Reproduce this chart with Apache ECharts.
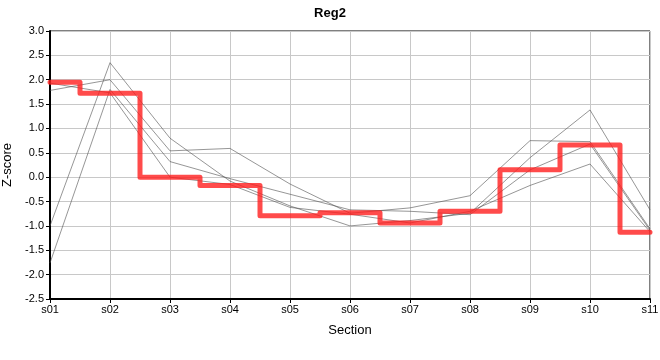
<!DOCTYPE html>
<html><head><meta charset="utf-8">
<script src="https://cdn.jsdelivr.net/npm/echarts@6/dist/echarts.min.js"></script>
<style>html,body{margin:0;padding:0;background:#fff}#c{width:660px;height:360px}</style>
</head><body><div id="c"></div>
<script>
const categories = ['s01','s02','s03','s04','s05','s06','s07','s08','s09','s10','s11'];
const gray1 = [-1.0, 2.35, 0.80, -0.08, -0.59, -1.0, -0.89, -0.74, 0.40, 1.38, -0.67];
const gray2 = [1.78, 2.0, 0.54, 0.59, -0.14, -0.74, -0.63, -0.38, 0.75, 0.73, -1.06];
const gray3 = [-1.76, 1.8, 0.32, -0.03, -0.35, -0.67, -0.70, -0.77, 0.15, 0.68, -1.09];
const gray4 = [1.93, 1.73, 0.0, -0.15, -0.62, -0.76, -0.94, -0.70, -0.17, 0.27, -1.12];
const regValues = [1.95, 1.72, 0.0, -0.17, -0.79, -0.73, -0.94, -0.70, 0.15, 0.66, -1.13];
const yTicks = {min: -2.5, max: 3.0, interval: 0.5};

const font = 'Liberation Sans, Arial, sans-serif';
const grayStyle = {color: 'rgba(80,80,80,0.6)', width: 1};
const grays = [gray1, gray2, gray3, gray4].map(d => ({
  type: 'line', data: d, symbol: 'none', lineStyle: grayStyle, silent: true, z: 2
}));
const chart = echarts.init(document.getElementById('c'));
chart.setOption({
  animation: false,
  title: {text: 'Reg2', left: 'center', top: 2, textStyle: {fontFamily: font, fontSize: 13, fontWeight: 'bold', color: '#000'}},
  grid: {left: 50, right: 10, top: 31, bottom: 61, show: true, borderColor: '#000', borderWidth: 1,
         containLabel: false, outerBoundsMode: 'none'},
  xAxis: {
    type: 'category', data: categories, boundaryGap: false,
    name: 'Section', nameLocation: 'middle', nameGap: 25,
    nameTextStyle: {fontFamily: font, fontSize: 13, color: '#000'},
    axisLine: {onZero: false, lineStyle: {color: '#000', width: 2}},
    axisTick: {show: true, length: 4, lineStyle: {color: '#000'}},
    axisLabel: {fontFamily: font, fontSize: 11, color: '#000', margin: 5},
    splitLine: {show: true, lineStyle: {color: '#c8c8c8', width: 1}}
  },
  yAxis: {
    type: 'value', min: yTicks.min, max: yTicks.max, interval: yTicks.interval,
    name: 'Z-score', nameLocation: 'middle', nameGap: 27, nameRotate: 90,
    nameTextStyle: {fontFamily: font, fontSize: 13, color: '#000'},
    axisLine: {show: true, onZero: false, lineStyle: {color: '#000', width: 2}},
    axisTick: {show: true, length: 4, lineStyle: {color: '#000'}},
    axisLabel: {fontFamily: font, fontSize: 11, color: '#000', margin: 6, formatter: v => v.toFixed(1)},
    splitLine: {show: true, lineStyle: {color: '#c8c8c8', width: 1}}
  },
  series: grays.concat([{
    type: 'line', data: regValues, step: 'middle', symbol: 'none', z: 5,
    lineStyle: {color: 'rgba(255,30,30,0.8)', width: 5, join: 'round', cap: 'round'}
  }])
});
</script></body></html>
